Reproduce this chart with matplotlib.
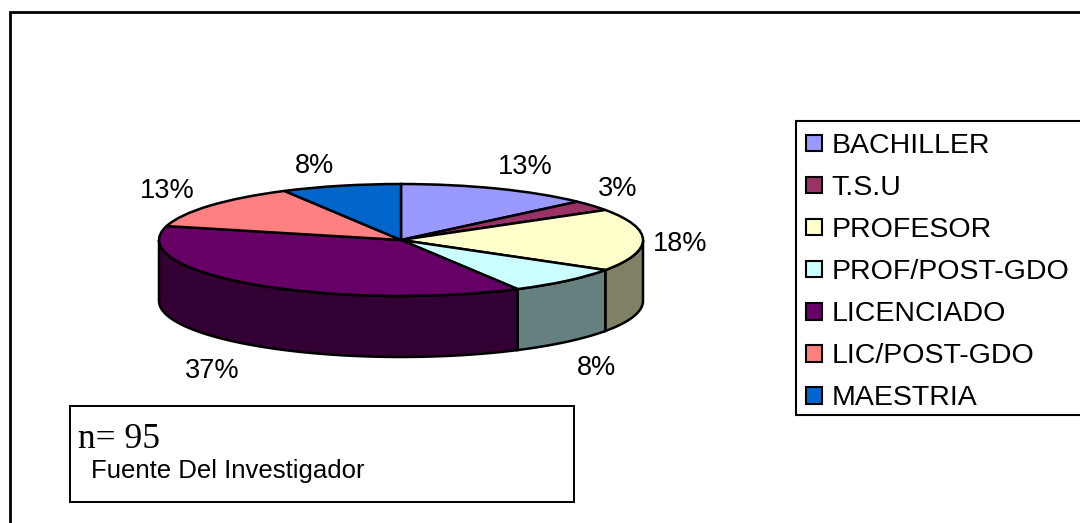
import numpy as np
import matplotlib
matplotlib.use('Agg')
import matplotlib.pyplot as plt
from matplotlib.colors import to_rgb
from matplotlib.patches import Rectangle

categories = ['BACHILLER', 'T.S.U', 'PROFESOR', 'PROF/POST-GDO', 'LICENCIADO', 'LIC/POST-GDO', 'MAESTRIA']
values = [13, 3, 18, 8, 37, 13, 8]
colors = ['#9999FF', '#993366', '#FFFFCC', '#CCFFFF', '#660066', '#FF8080', '#0066CC']
note_n = 'n= 95'
note_src = 'Fuente Del Investigador'

W, H = 1080, 523
cx, cy, rx, ry, depth = 401, 240, 242, 56, 61  # pie geometry in pixels
label_pos = [(525, 167), (618, 189), (680, 244), (597, 368), (212, 371), (167, 191), (314, 166)]

plt.rcParams['font.family'] = ['Liberation Sans', 'DejaVu Sans']
fig = plt.figure(figsize=(W/100, H/100), dpi=100)

# overlay in pixel coords for frame, boxes and text
bg = fig.add_axes([0, 0, 1, 1])
bg.set_xlim(0, W)
bg.set_ylim(H, 0)
bg.axis('off')
bg.add_patch(Rectangle((10, 12), W + 20, H + 20, fc='white', ec='black', lw=2))
bg.add_patch(Rectangle((796, 121), W, 294, fc='white', ec='black', lw=1.5))
bg.add_patch(Rectangle((70, 406), 504, 96, fc='white', ec='black', lw=1.4))
bg.text(78, 440, note_n, family='Liberation Serif', fontsize=25.5, va='center', ha='left')
bg.text(91, 471, note_src, fontsize=18.5, va='center', ha='left')

# pie axes: the unit circle is squashed to the ellipse by the axes shape
ax = fig.add_axes([(cx - rx)/W, 1 - (cy + ry + depth)/H, 2*rx/W, (2*ry + depth)/H])
wedges, _ = ax.pie(values, colors=colors, startangle=90, counterclock=False,
                   wedgeprops={'edgecolor': 'black', 'linewidth': 1.8, 'clip_on': False, 'zorder': 3})
ax.set_aspect('auto')
ax.set_xlim(-1, 1)
d = depth/ry
ax.set_ylim(-1 - d, 1)
ax.set_frame_on(False)

# side walls, only the front half of the rim can be seen
edges = np.cumsum([0] + values)/sum(values)*360
for i in range(len(values)):
    a = max(edges[i], 90)
    b = min(edges[i + 1], 270)
    if b <= a:
        continue
    t = np.radians(np.linspace(a, b, 60))
    xs = np.sin(t)
    ys = np.cos(t)
    wall = tuple(0.5*c for c in to_rgb(colors[i]))
    ax.fill(np.r_[xs, xs[::-1]], np.r_[ys, ys[::-1] - d], fc=wall, ec='black',
            lw=1.8, clip_on=False, zorder=2)

# percent labels
top = fig.add_axes([0, 0, 1, 1], frameon=False)
top.set_xlim(0, W)
top.set_ylim(H, 0)
top.axis('off')
for v, (x, y) in zip(values, label_pos):
    top.text(x, y, f'{v}%', fontsize=19.5, ha='center', va='center')

leg = top.legend(wedges, categories, loc='upper left', bbox_to_anchor=(796, 123),
                 bbox_transform=top.transData, frameon=False, fontsize=20.5, ncol=1,
                 handlelength=0.56, handleheight=0.52, handletextpad=0.33,
                 labelspacing=0.565, borderpad=0.35, borderaxespad=0)
for h in leg.legend_handles:
    h.set_edgecolor('black')
    h.set_linewidth(1.5)

fig.savefig('out.png', dpi=100)
